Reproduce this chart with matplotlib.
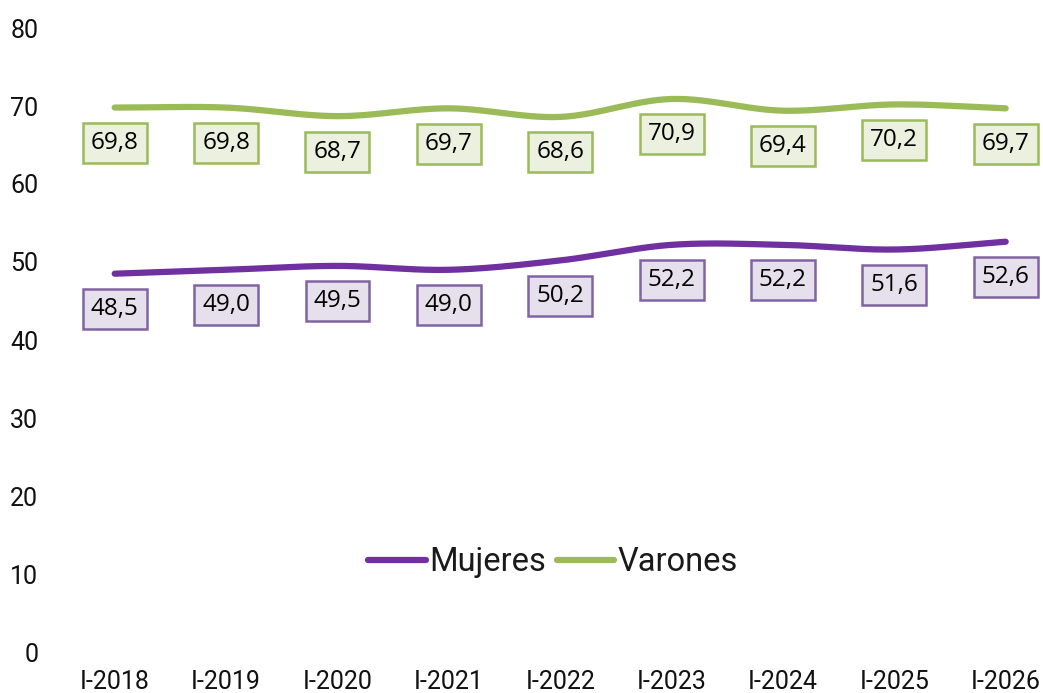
import numpy as np
import matplotlib
matplotlib.use("Agg")
import matplotlib.pyplot as plt
from matplotlib.lines import Line2D

categories = ["I-2018", "I-2019", "I-2020", "I-2021", "I-2022", "I-2023", "I-2024", "I-2025", "I-2026"]
mujeres = [48.5, 49.0, 49.5, 49.0, 50.2, 52.2, 52.2, 51.6, 52.6]
varones = [69.8, 69.8, 68.7, 69.7, 68.6, 70.9, 69.4, 70.2, 69.7]
yticks = [0, 10, 20, 30, 40, 50, 60, 70, 80]

C_MUJ = "#7030A0"
C_VAR = "#9BBB59"


def smooth(x, y, n=30):
    # Catmull-Rom style smoothing of the drawn line (Excel "smoothed line")
    x = np.asarray(x, float)
    y = np.asarray(y, float)
    px = np.concatenate([[2 * x[0] - x[1]], x, [2 * x[-1] - x[-2]]])
    py = np.concatenate([[2 * y[0] - y[1]], y, [2 * y[-1] - y[-2]]])
    xs, ys = [], []
    t = np.linspace(0, 1, n, endpoint=False)
    for i in range(1, len(px) - 2):
        for arr, out in ((px, xs), (py, ys)):
            p0, p1, p2, p3 = arr[i - 1], arr[i], arr[i + 1], arr[i + 2]
            out.extend(0.5 * ((2 * p1) + (-p0 + p2) * t
                              + (2 * p0 - 5 * p1 + 4 * p2 - p3) * t ** 2
                              + (-p0 + 3 * p1 - 3 * p2 + p3) * t ** 3))
    xs.append(x[-1])
    ys.append(y[-1])
    return np.array(xs), np.array(ys)


W, H = 1043, 693
fig = plt.figure(figsize=(W / 100, H / 100), dpi=100)
left, right, top, bottom = 59, 1043, 28, 652
ax = fig.add_axes([left / W, (H - bottom) / H, (right - left) / W, (bottom - top) / H])
step = 111.375
ax.set_xlim(-0.5, -0.5 + (right - left) / step)
ax.set_ylim(0, 80)

xs = np.arange(len(categories))
for vals, col in ((mujeres, C_MUJ), (varones, C_VAR)):
    sx, sy = smooth(xs, vals)
    ax.plot(sx, sy, color=col, lw=4.5, solid_capstyle="round", zorder=3)

for vals, edge, face in ((mujeres, "#8064A2", "#E6E0EC"), (varones, "#9BBB59", "#EBF1DE")):
    for x, v in zip(xs, vals):
        ax.annotate(f"{v:.1f}".replace(".", ","), (x, v), xytext=(0, -25.5),
                    textcoords="offset points", ha="center", va="center",
                    fontsize=17.5, family="Open Sans", color="black",
                    bbox=dict(boxstyle="square,pad=0.33", fc=face, ec=edge, lw=1.8),
                    zorder=4)

ax.set_xticks(xs)
ax.set_xticklabels(categories, family="Roboto", fontsize=18, color="#111111")
ax.set_yticks(yticks)
ax.set_yticklabels([str(t) for t in yticks], family="Roboto", fontsize=18, color="#111111")
ax.tick_params(axis="both", length=0)
ax.tick_params(axis="y", pad=15)
ax.tick_params(axis="x", pad=13)
for s in ax.spines.values():
    s.set_visible(False)

handles = [Line2D([], [], color=C_MUJ, lw=4.5, solid_capstyle="round"),
           Line2D([], [], color=C_VAR, lw=4.5, solid_capstyle="round")]
leg = ax.legend(handles, ["Mujeres", "Varones"], loc="center",
                bbox_to_anchor=((553 - left) / (right - left), (bottom - 562) / (bottom - top)),
                ncol=2, frameon=False, prop={"family": "Roboto", "size": 23.5},
                handlelength=1.75, handletextpad=0.1, columnspacing=0.35)
for t in leg.get_texts():
    t.set_color("#1a1a1a")

fig.savefig("out.png", dpi=100)
